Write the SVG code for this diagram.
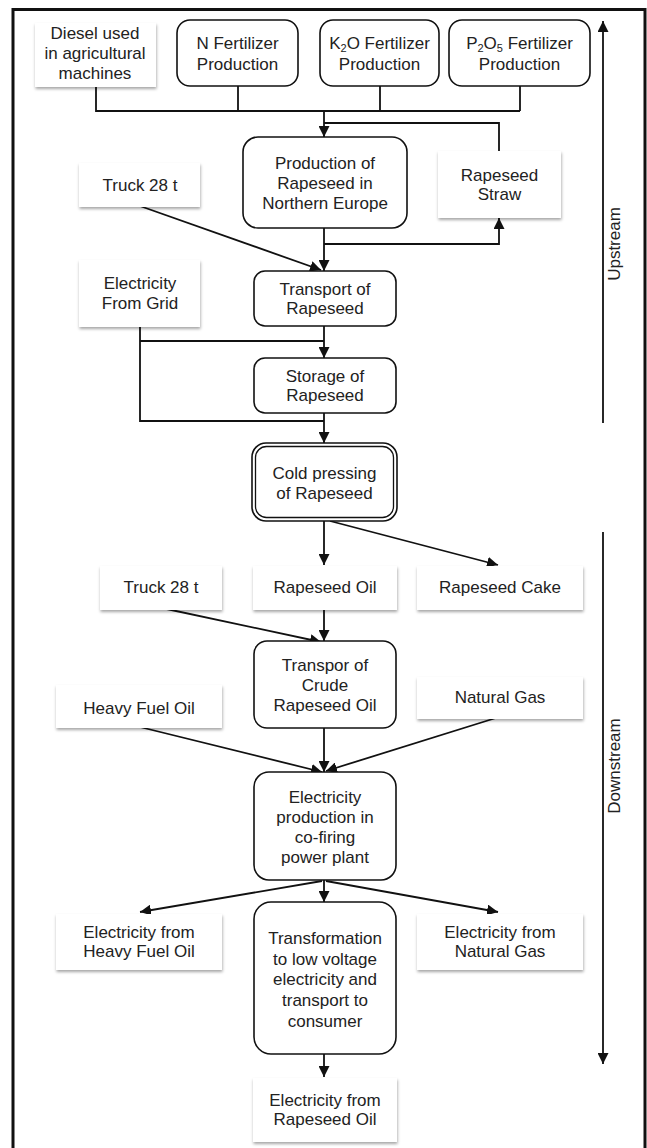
<svg xmlns="http://www.w3.org/2000/svg" width="647" height="1148" viewBox="0 0 647 1148">
<style>
text{font-family:"Liberation Sans",Arial,sans-serif;font-size:17px;fill:#222;text-anchor:middle}
.proc{fill:#fff;stroke:#111;stroke-width:1.6}
.ext{fill:#fff;stroke:none;filter:url(#sh)}
.ln{fill:none;stroke:#111;stroke-width:1.8}
.ar{fill:none;stroke:#111;stroke-width:1.8;marker-end:url(#ah)}
.sub{font-size:11px}
</style>
<defs>
<marker id="ah" markerUnits="userSpaceOnUse" markerWidth="11" markerHeight="11" refX="11" refY="5.5" orient="auto">
<path d="M0,0 L11,5.5 L0,11 z" fill="#111"/>
</marker>
<filter id="sh" x="-10%" y="-15%" width="120%" height="140%">
<feDropShadow dx="0.5" dy="2" stdDeviation="1.6" flood-color="#000" flood-opacity="0.35"/>
</filter>
</defs>
<rect x="13" y="9.5" width="632" height="1150" fill="#fff" stroke="#111" stroke-width="3"/>

<g id="connectors">
<polyline class="ln" points="96,87 96,111 520,111"/>
<line class="ln" x1="238" y1="86" x2="238" y2="111"/>
<line class="ln" x1="380" y1="86" x2="380" y2="111"/>
<line class="ln" x1="520" y1="86" x2="520" y2="111"/>
<line class="ar" x1="324" y1="111" x2="324" y2="137"/>
<polyline class="ln" points="499,151 499,123 324,123"/>
<line class="ar" x1="324" y1="228" x2="324" y2="271"/>
<polyline class="ar" points="324,244 499,244 499,218"/>
<line class="ar" x1="140" y1="206" x2="321" y2="270"/>
<line class="ar" x1="324" y1="326" x2="324" y2="358"/>
<polyline class="ln" points="140,327 140,421 324,421"/>
<line class="ln" x1="140" y1="341" x2="324" y2="341"/>
<line class="ar" x1="324" y1="413" x2="324" y2="443"/>
<line class="ar" x1="324" y1="521" x2="324" y2="565"/>
<line class="ar" x1="330" y1="521" x2="498" y2="565"/>
<line class="ar" x1="162" y1="608" x2="321" y2="642"/>
<line class="ar" x1="324" y1="610" x2="324" y2="641"/>
<line class="ar" x1="140" y1="727" x2="322" y2="772"/>
<line class="ar" x1="499" y1="717" x2="326" y2="771"/>
<line class="ar" x1="324" y1="728" x2="324" y2="772"/>
<line class="ar" x1="324" y1="880" x2="324" y2="902"/>
<line class="ar" x1="322" y1="881" x2="140" y2="912"/>
<line class="ar" x1="326" y1="881" x2="498" y2="912"/>
<line class="ar" x1="324" y1="1054" x2="324" y2="1077"/>
<line class="ar" x1="603" y1="423" x2="603" y2="21"/>
<line class="ar" x1="603" y1="532" x2="603" y2="1064"/>
</g>

<g id="label-upstream"><text transform="translate(619.5,244) rotate(-90)">Upstream</text></g>
<g id="label-downstream"><text transform="translate(620,766) rotate(-90)">Downstream</text></g>

<g id="diesel"><rect class="ext" x="35" y="23" width="121" height="64"/>
<text x="95" y="39">Diesel used</text><text x="95" y="59">in agricultural</text><text x="95" y="79">machines</text></g>

<g id="n-fert"><rect class="proc" x="177" y="20" width="121" height="66" rx="13"/>
<text x="237.5" y="49">N Fertilizer</text><text x="237.5" y="70">Production</text></g>

<g id="k2o-fert"><rect class="proc" x="320" y="20" width="119" height="66" rx="13"/>
<text x="379.5" y="49">K<tspan class="sub" dy="3">2</tspan><tspan dy="-3">O Fertilizer</tspan></text><text x="379.5" y="70">Production</text></g>

<g id="p2o5-fert"><rect class="proc" x="449" y="20" width="141" height="66" rx="13"/>
<text x="519.5" y="49">P<tspan class="sub" dy="3">2</tspan><tspan dy="-3">O</tspan><tspan class="sub" dy="3">5</tspan><tspan dy="-3"> Fertilizer</tspan></text><text x="519.5" y="70">Production</text></g>

<g id="production"><rect class="proc" x="243" y="137" width="164" height="91" rx="15"/>
<text x="325" y="169">Production of</text><text x="325" y="189">Rapeseed in</text><text x="325" y="209">Northern Europe</text></g>

<g id="straw"><rect class="ext" x="438" y="151" width="123" height="67"/>
<text x="499.5" y="181">Rapeseed</text><text x="499.5" y="200">Straw</text></g>

<g id="truck1"><rect class="ext" x="79" y="163" width="121" height="44"/>
<text x="140" y="191">Truck 28 t</text></g>

<g id="transport"><rect class="proc" x="254" y="271" width="142" height="55" rx="11"/>
<text x="325" y="295">Transport of</text><text x="325" y="314">Rapeseed</text></g>

<g id="grid"><rect class="ext" x="79" y="260" width="121" height="67"/>
<text x="140" y="289">Electricity</text><text x="140" y="309">From Grid</text></g>

<g id="storage"><rect class="proc" x="254" y="358" width="142" height="55" rx="11"/>
<text x="325" y="382">Storage of</text><text x="325" y="401">Rapeseed</text></g>

<g id="cold-pressing"><rect class="proc" x="252" y="443" width="145" height="78" rx="14" stroke-width="1.3"/>
<rect x="255.5" y="446.5" width="138" height="71" rx="11" fill="none" stroke="#111" stroke-width="1.3"/>
<text x="324.5" y="479">Cold pressing</text><text x="324.5" y="499">of Rapeseed</text></g>

<g id="truck2"><rect class="ext" x="100" y="566" width="122" height="44"/>
<text x="161" y="593">Truck 28 t</text></g>

<g id="rapeseed-oil"><rect class="ext" x="253" y="566" width="144" height="44"/>
<text x="325" y="593">Rapeseed Oil</text></g>

<g id="rapeseed-cake"><rect class="ext" x="417" y="566" width="166" height="44"/>
<text x="500" y="593">Rapeseed Cake</text></g>

<g id="transpor-oil"><rect class="proc" x="254" y="641" width="142" height="87" rx="13"/>
<text x="325" y="671">Transpor of</text><text x="325" y="691">Crude</text><text x="325" y="711">Rapeseed Oil</text></g>

<g id="hfo"><rect class="ext" x="56" y="685" width="166" height="43"/>
<text x="139" y="714">Heavy Fuel Oil</text></g>

<g id="natural-gas"><rect class="ext" x="417" y="677" width="166" height="42"/>
<text x="500" y="703">Natural Gas</text></g>

<g id="cofiring"><rect class="proc" x="254" y="772" width="142" height="108" rx="15"/>
<text x="325" y="803">Electricity</text><text x="325" y="823">production in</text><text x="325" y="843">co-firing</text><text x="325" y="863">power plant</text></g>

<g id="el-hfo"><rect class="ext" x="56" y="914" width="166" height="56"/>
<text x="139" y="938">Electricity from</text><text x="139" y="957">Heavy Fuel Oil</text></g>

<g id="el-ng"><rect class="ext" x="417" y="914" width="166" height="56"/>
<text x="500" y="938">Electricity from</text><text x="500" y="957">Natural Gas</text></g>

<g id="transformation"><rect class="proc" x="254" y="902" width="142" height="152" rx="17"/>
<text x="325" y="944">Transformation</text><text x="325" y="965">to low voltage</text><text x="325" y="985">electricity and</text><text x="325" y="1006">transport to</text><text x="325" y="1027">consumer</text></g>

<g id="el-ro"><rect class="ext" x="253" y="1078" width="144" height="64"/>
<text x="325" y="1106">Electricity from</text><text x="325" y="1125">Rapeseed Oil</text></g>
</svg>
